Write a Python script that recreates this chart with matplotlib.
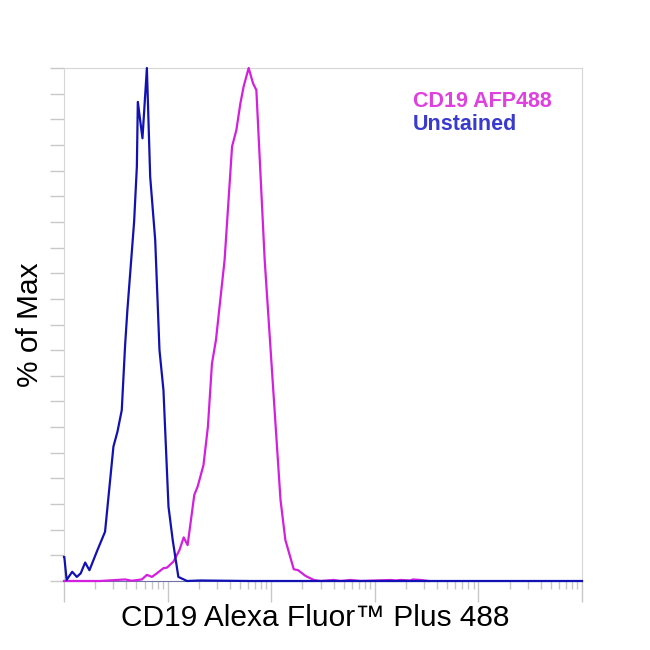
import numpy as np
import matplotlib
matplotlib.use("Agg")
import matplotlib.pyplot as plt
from matplotlib.ticker import LogLocator, NullFormatter, MultipleLocator

plt.rcParams['font.family'] = ['Liberation Sans', 'DejaVu Sans']

# fluorescence intensity (log axis) vs % of max
unst_x = [1.0, 1.007, 1.06, 1.20, 1.33, 1.45, 1.60, 1.76, 2.10, 2.49, 3.00, 3.28, 3.61,
          3.89, 4.09, 4.75, 5.05, 5.16, 5.72, 6.31, 6.79, 7.59, 8.35, 9.12, 10.2, 11.2,
          12.7, 15.4, 20.7, 63.0, 190.0, 1000.0, 10000.0, 100000.0]
unst_y = [4.7, 4.7, 0.2, 1.8, 0.8, 1.5, 3.6, 2.1, 6.0, 9.6, 26.2, 29.1, 33.3,
          46.0, 52.8, 70.0, 80.8, 93.4, 86.3, 100.0, 78.8, 66.5, 45.0, 37.2, 14.5, 8.0,
          0.8, 0.0, 0.1, 0.0, 0.0, 0.0, 0.0, 0.0]

cd19_x = [1.0, 2.23, 3.89, 4.52, 5.64, 6.31, 7.05, 7.88, 9.12, 9.85, 11.4, 13.0, 14.3,
          15.6, 18.1, 19.5, 22.2, 24.5, 26.8, 29.3, 35.5, 41.9, 46.1, 50.4, 54.2, 60.6,
          66.8, 71.9, 86.5, 123.0, 137.0, 165.0, 182.0, 214.0, 258.0, 299.0, 402.0,
          467.0, 583.0, 729.0, 1422.0, 1586.0, 1774.0, 2218.0, 2321.0, 2774.0, 3313.0]
cd19_y = [0.0, 0.0, 0.3, 0.05, 0.3, 1.2, 0.8, 1.5, 2.5, 2.6, 3.8, 6.0, 8.5,
          7.0, 16.8, 18.4, 22.6, 30.1, 42.4, 47.0, 62.6, 84.7, 87.9, 93.1, 96.4, 100.0,
          97.0, 95.7, 62.6, 15.8, 8.0, 2.3, 2.1, 1.0, 0.2, 0.0, 0.2,
          0.0, 0.2, 0.0, 0.2, 0.1, 0.2, 0.1, 0.3, 0.2, 0.0]

fig = plt.figure(figsize=(6.5, 6.5), dpi=100)
ax = fig.add_axes([64/650, 69/650, 518/650, 513/650])

ax.plot(cd19_x, cd19_y, color='#d41fdf', lw=1.6, clip_on=False, zorder=3)
ax.plot(unst_x, unst_y, color='#1212b4', lw=1.6, clip_on=False, zorder=4)

ax.set_xscale('log')
ax.set_xlim(1, 1e5)
ax.set_ylim(0, 100)

ax.xaxis.set_major_locator(LogLocator(base=10, numticks=10))
ax.xaxis.set_minor_locator(LogLocator(base=10, subs=np.arange(2, 10), numticks=20))
ax.xaxis.set_major_formatter(NullFormatter())
ax.xaxis.set_minor_formatter(NullFormatter())
ax.yaxis.set_major_locator(MultipleLocator(5))
ax.yaxis.set_major_formatter(NullFormatter())

ax.tick_params(axis='x', which='major', direction='out', length=15, width=1, color='#c8c8c8')
ax.tick_params(axis='x', which='minor', direction='out', length=6, width=1, color='#c8c8c8')
ax.tick_params(axis='y', which='major', direction='out', length=10, width=1, color='#c8c8c8')

for s in ['left', 'top', 'right']:
    ax.spines[s].set_color('#d6d6d6')
ax.spines['bottom'].set_color('#7070a8')

ax.set_xlabel('CD19 Alexa Fluor™ Plus 488', fontsize=21.5, labelpad=1)
ax.xaxis.set_label_coords(0.484, -0.045, transform=ax.transAxes)
ax.xaxis.label.set_va('top')
ax.set_ylabel('% of Max', fontsize=21.5, labelpad=1)

ax.text(0.673, 0.935, 'CD19 AFP488', transform=ax.transAxes, color='#e040e0',
        fontsize=15.5, fontweight='bold', va='center', ha='left')
ax.text(0.673, 0.89, 'Unstained', transform=ax.transAxes, color='#3a3ad0',
        fontsize=15.5, fontweight='bold', va='center', ha='left')

fig.savefig('out.png', dpi=100)
